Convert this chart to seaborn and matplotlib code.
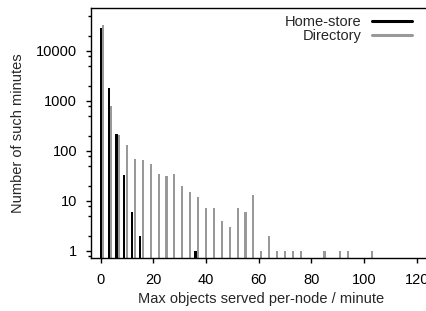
import pandas as pd
import seaborn as sns
import matplotlib.pyplot as plt
from matplotlib.lines import Line2D

# max objects per node per minute, bins of 3 (directory drawn offset by 1)
home_x = [0, 3, 6, 9, 12, 15, 36]
home_n = [28000, 1800, 215, 33, 6, 2, 1]
dir_x = [1, 4, 7, 10, 13, 16, 19, 22, 25, 28, 31, 34, 37, 40, 43, 46, 49, 52, 55, 58,
         61, 64, 67, 70, 73, 76, 85, 91, 94, 103]
dir_n = [33000, 780, 205, 130, 68, 65, 54, 34, 31, 34, 20, 15, 12, 7, 7, 4, 3, 7, 6, 13,
         1, 2, 1, 1, 1, 1, 1, 1, 1, 1]
series = ["Home-store", "Directory"]
colors = {"Home-store": "#000000", "Directory": "#999999"}
xticks = [0, 20, 40, 60, 80, 100, 120]
yticks = [1, 10, 100, 1000, 10000]

df = pd.concat([
	pd.DataFrame({"x": home_x, "n": home_n, "series": series[0]}),
	pd.DataFrame({"x": dir_x, "n": dir_n, "series": series[1]}),
])

sns.set_style("ticks")
plt.rcParams["font.family"] = ["Liberation Sans", "DejaVu Sans"]
plt.rcParams["font.size"] = 10.5

fig = plt.figure(figsize=(4.27, 3.11), dpi=100)
ax = fig.add_axes([0.2131, 0.1704, 0.7986, 0.8039])

sns.barplot(data=df, x="x", y="n", hue="series", palette=colors, native_scale=True,
	dodge=False, width=0.8, saturation=1, errorbar=None, linewidth=0, legend=False, ax=ax)

ax.set_yscale("log")
ax.set_ylim(0.714, 71450)
ax.set_xlim(-3.68, 125.8)
ax.set_yticks(yticks)
ax.set_yticklabels([str(v) for v in yticks])
minor = [m * 10 ** e for e in range(-1, 5) for m in (2, 5, 8)]
ax.set_yticks([v for v in minor if 0.714 < v < 71450], minor=True)
ax.set_xticks(xticks)
ax.set_xticklabels([str(v) for v in xticks])

for s in ax.spines.values():
	s.set_linewidth(1.0)
	s.set_color("black")
ax.tick_params(axis="both", which="major", length=3.5, width=1, color="black",
	labelcolor="black", labelsize=10.5)
ax.tick_params(axis="y", which="major", pad=6.5)
ax.tick_params(axis="x", which="major", pad=7)
ax.tick_params(axis="y", which="minor", length=2, width=1, color="black")

ax.set_xlabel("Max objects served per-node / minute", labelpad=4, fontsize=10.5)
ax.set_ylabel("Number of such minutes", labelpad=8, fontsize=10.5)

handles = [Line2D([], [], color=colors[s], lw=2.2) for s in series]
ax.legend(handles, series, loc="upper right", bbox_to_anchor=(0.964, 0.952),
	bbox_transform=fig.transFigure, frameon=False, markerfirst=False,
	handlelength=2.74, handletextpad=0.68, labelspacing=0.0, borderpad=0,
	borderaxespad=0, fontsize=10.5)

fig.savefig("out.png", dpi=100)
